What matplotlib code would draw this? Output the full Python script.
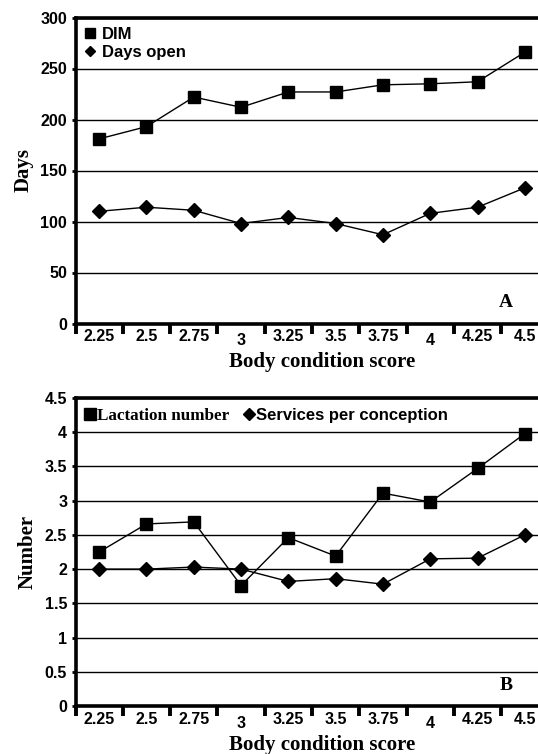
import numpy as np
import matplotlib
matplotlib.use("Agg")
import matplotlib.pyplot as plt
import matplotlib.transforms as mtransforms
from matplotlib.lines import Line2D

# Daten
bcs = ["2.25", "2.5", "2.75", "3", "3.25", "3.5", "3.75", "4", "4.25", "4.5"]
dim = [181, 193, 222, 212, 227, 227, 234, 235, 237, 266]
days_open = [110, 114, 111, 98, 104, 98, 87, 108, 114, 133]
lactation = [2.25, 2.66, 2.69, 1.76, 2.46, 2.19, 3.11, 2.98, 3.47, 3.98]
services = [2.0, 2.0, 2.03, 2.0, 1.82, 1.86, 1.78, 2.15, 2.16, 2.5]

sans = "Liberation Sans"
serif = "Liberation Serif"

fig = plt.figure(figsize=(5.38, 7.54), dpi=100)
# Achsen laufen rechts etwas über den Bildrand hinaus (wie im Original beschnitten)
axA = fig.add_axes([75.5/538, 430.5/754, 473/538, 306/754])
axB = fig.add_axes([75.5/538, 48/754, 473/538, 308/754])

x = np.arange(len(bcs))


def style_axis(ax, ymax, ystep, ylabel, letter):
    ax.set_xlim(-0.5, 9.5)
    ax.set_ylim(0, ymax)
    yt = np.arange(0, ymax + ystep / 2, ystep)
    ax.set_yticks(yt)
    ax.set_yticklabels([f"{v:g}" for v in yt], fontfamily=sans, fontweight="bold", fontsize=11.5)
    ax.yaxis.grid(True, color="black", lw=1.0)
    ax.set_axisbelow(True)
    ax.set_xticks(x)
    ax.set_xticklabels(bcs, fontfamily=sans, fontweight="bold", fontsize=11.5)
    ax.set_xticks(np.arange(-0.5, 10, 1), minor=True)
    ax.tick_params(axis="x", which="major", length=0, pad=4)
    ax.tick_params(axis="x", which="minor", length=7, width=2.8, direction="out")
    ax.tick_params(axis="y", length=3, width=2, pad=3)
    # "3" und "4" etwas tiefer, wie im Original
    for lab in ax.get_xticklabels():
        if lab.get_text() in ("3", "4"):
            lab.set_transform(lab.get_transform() + mtransforms.ScaledTranslation(0, -4/100, fig.dpi_scale_trans))
    for s in ("left", "bottom", "top"):
        ax.spines[s].set_linewidth(2.6)
    ax.spines["right"].set_visible(False)
    ax.set_xlabel("Body condition score", fontfamily=serif, fontweight="bold", fontsize=15, labelpad=3)
    # Beschriftung sitzt im Original etwas rechts der Mitte
    ax.xaxis.label.set_x(0.522)
    ax.set_ylabel(ylabel, fontfamily=serif, fontweight="bold", fontsize=15, labelpad=5)
    ax.text(0.91, 0.068, letter, transform=ax.transAxes, fontfamily=serif,
            fontweight="bold", fontsize=14, ha="center", va="center")


# Panel A
axA.plot(x, dim, color="black", lw=1.0, marker="s", ms=9)
axA.plot(x, days_open, color="black", lw=1.0, marker="D", ms=7)
style_axis(axA, 300, 50, "Days", "A")
hA = [Line2D([], [], ls="none", marker="s", ms=7.5, color="black"),
      Line2D([], [], ls="none", marker="D", ms=5.5, color="black")]
legA = axA.legend(hA, ["DIM", "Days open"], loc="upper left", frameon=False,
                  handlelength=0.6, handletextpad=0.45, labelspacing=0.2,
                  borderaxespad=0.15, prop={"family": sans, "weight": "bold", "size": 12})

# Panel B
axB.plot(x, lactation, color="black", lw=1.0, marker="s", ms=9)
axB.plot(x, services, color="black", lw=1.0, marker="D", ms=7)
style_axis(axB, 4.5, 0.5, "Number", "B")
hB = [Line2D([], [], ls="none", marker="s", ms=9, color="black"),
      Line2D([], [], ls="none", marker="D", ms=6, color="black")]
legB = axB.legend(hB, ["Lactation number", "Services per conception"], loc="upper left",
                  ncol=2, frameon=False, handlelength=0.5, handletextpad=0.2,
                  columnspacing=0.9, borderaxespad=0.2,
                  prop={"family": sans, "weight": "bold", "size": 12})
legB.get_texts()[0].set_fontfamily(serif)
legB.get_texts()[0].set_fontsize(12.3)

fig.savefig("out.png", dpi=100)
